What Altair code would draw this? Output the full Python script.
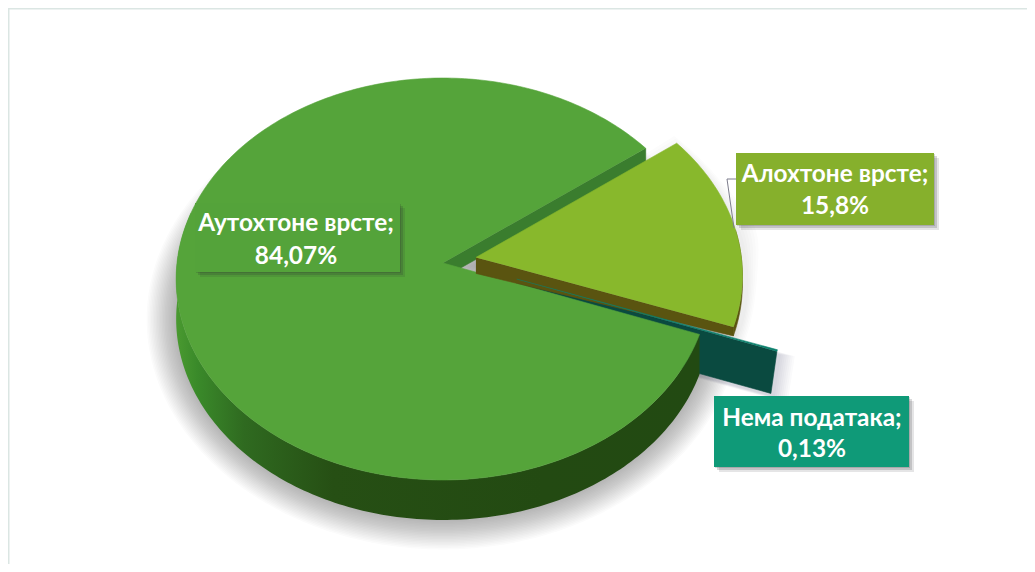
import math
import altair as alt
import pandas as pd

# ---- values ----
NAMES = ["Алохтоне врсте;", "Нема података;", "Аутохтоне врсте;"]
SHARES = [15.8, 0.13, 84.07]

# ---- layout / style ----
W, H = 1019, 556
ROT = 53.0
P, A, B, X0, Y0 = 0.0796, 266.0, 199.7, 443.0, 263.0
EXPLODE = [(0.124, -0.028), (0.275, 0.08), (0.0, 0.0)]
TOP = ["#88b82c", "#0b7f6c", "#55a43a"]
BOXES = [(736, 934, 153, 225, "#86b02c", 835, 175, 207),
         (714, 909, 396, 467, "#0f9a78", 812, 419, 450),
         (195, 400, 203, 272, "#54a33a", 296, 224, 257)]
FONT = "Lato"
FS = 24.4

xs = alt.Scale(domain=[8, 8 + W], range=[0, W], nice=False, zero=False)
ys = alt.Scale(domain=[8, 8 + H], range=[0, H], nice=False, zero=False)


def proj(u, v):
    w = 1 - P * v
    return (X0 + A * u / w, Y0 + B * v / w)


def arc(t0, t1, ex):
    n = max(2, int(abs(t1 - t0)) + 1)
    out = []
    for i in range(n + 1):
        t = math.radians(t0 + (t1 - t0) * i / n)
        out.append(proj(ex[0] + math.sin(t), ex[1] - math.cos(t)))
    return out


def frame(pts, pid=0):
    return pd.DataFrame({"x": [p[0] for p in pts], "y": [p[1] for p in pts],
                         "i": list(range(len(pts))), "pid": pid})


def poly(pts, fill, opacity=1.0, stroke=True):
    kw = {"fill": fill, "opacity": opacity}
    if stroke and isinstance(fill, str):
        kw.update(stroke=fill, strokeWidth=0.6)
    else:
        kw.update(strokeOpacity=0, strokeWidth=0)
    return alt.Chart(frame(pts)).mark_line(**kw).encode(
        x=alt.X("x:Q", scale=xs, axis=None),
        y=alt.Y("y:Q", scale=ys, axis=None),
        order=alt.Order("i:Q"))


def shift(pts, dx, dy):
    return [(x + dx, y + dy) for x, y in pts]


def spread(pts, s):
    cx = sum(p[0] for p in pts) / len(pts)
    cy = sum(p[1] for p in pts) / len(pts)
    out = []
    for x, y in pts:
        d = math.hypot(x - cx, y - cy) or 1
        out.append((x + s * (x - cx) / d, y + s * (y - cy) / d))
    return out


def glow(pts, steps, alpha):
    return [poly(spread(pts, s), "#3c3c44", alpha, stroke=False) for s in steps]


def hgrad(*stops):
    return alt.Gradient(gradient="linear", x1=0, x2=1, y1=0, y2=0,
                        stops=[alt.GradientStop(offset=o, color=c) for o, c in stops])


def rect(x0, x1, y0, y1, fill, opacity=1.0):
    return alt.Chart(pd.DataFrame({"x": [x0], "x2": [x1], "y": [y0], "y2": [y1]})).mark_rect(
        fill=fill, opacity=opacity).encode(
        x=alt.X("x:Q", scale=xs, axis=None), x2="x2:Q",
        y=alt.Y("y:Q", scale=ys, axis=None), y2="y2:Q")


def label(tx, ty, s):
    return alt.Chart(pd.DataFrame({"x": [tx], "y": [ty], "t": [s]})).mark_text(
        font=FONT, fontSize=FS, fontWeight="bold", color="white", align="center", baseline="middle").encode(
        x=alt.X("x:Q", scale=xs, axis=None), y=alt.Y("y:Q", scale=ys, axis=None), text="t:N")


# slice angles from the shares
angles = []
t = ROT
for s in SHARES:
    angles.append((t, t + s * 3.6))
    t += s * 3.6

la, ta, ma = angles
lex, tex, mex = EXPLODE

m_arc = arc(ma[0], ma[1], mex)
l_arc = arc(la[0], la[1], lex)
t_arc = arc(ta[0], ta[1], tex)
m_apex, l_apex, t_apex = proj(*mex), proj(*lex), proj(*tex)

layers = []

# frame lines
layers.append(rect(8, 8 + W, 8, 9.5, "#dbe6e3"))
layers.append(rect(8, 9.5, 8, 8 + H, "#dbe6e3"))

# soft shadows
full = arc(0, 360, (0, 0))
layers += glow(shift(full, 0, 40), [1 + 1.5 * k for k in range(20)], 0.02)
layers += glow(shift(l_arc + [l_apex], 5, 8), [2, 5, 8, 11, 14, 17], 0.014)

t_tip = t_arc[-1]
t_wall = [t_apex, t_tip, (t_tip[0] - 6, t_tip[1] + 42), (t_apex[0] - 6, t_apex[1] + 42)]
layers += glow(shift(t_wall, 2, 3), [2, 4, 6, 8, 10, 12, 14, 16], 0.025)

# no-data wedge wall
layers.append(poly(t_wall, "#0a4a40"))

# main wedge: inner wall along the gap
m_corner = m_arc[-1]
layers.append(poly([m_apex, m_corner, (m_corner[0], m_corner[1] + 15), (m_apex[0], m_apex[1] + 15)],
                   "#3a7d2e"))

# main wedge: outer rim
rim_top = arc(ma[0], 285, mex)
rim = rim_top + shift(rim_top, 0, 40)[::-1]
layers.append(poly(rim, hgrad((0.0, "#4a9a30"), (0.04, "#3a8a2a"), (0.13, "#2f6a20"), (0.3, "#264f14"),
                              (0.7, "#234a12"), (1.0, "#224a12")), stroke=False))

# main wedge: top face
layers.append(poly([m_apex] + m_arc, TOP[2]))

# introduced species wedge: wall
l_end = l_arc[-1]
LD0, LD1 = 16, 9
layers.append(poly([l_apex, l_end, (l_end[0], l_end[1] + LD1), (l_apex[0], l_apex[1] + LD0)], "#5a5410"))
rl = arc(la[1] - 28, la[1], lex)
layers.append(poly(rl + shift(rl, 0, LD1)[::-1], "#5a5410"))

# no-data wedge: top face
layers.append(poly([t_apex] + t_arc, TOP[1]))

# introduced species wedge: top
layers.append(poly([l_apex] + l_arc, TOP[0]))

# leader line
leader = frame([(736, 179), (727, 179), (734, 228)])
layers.append(alt.Chart(leader).mark_line(color="#7d7d8c", strokeWidth=1).encode(
    x=alt.X("x:Q", scale=xs, axis=None), y=alt.Y("y:Q", scale=ys, axis=None), order=alt.Order("i:Q")))

# data labels
for name, share, box in zip(NAMES, SHARES, BOXES):
    x0, x1, y0, y1, col, tx, t1, t2 = box
    for k, a in [(1, 0.18), (3, 0.18), (5, 0.12)]:
        layers.append(rect(x0 + k, x1 + k, y0 + k, y1 + k, "#2a2a30", a))
    layers.append(rect(x0, x1, y0, y1, col))
    layers.append(label(tx, t1, name))
    layers.append(label(tx, t2, f"{share}%".replace(".", ",")))

chart = alt.layer(*layers).properties(
    width=W, height=H, padding=0, autosize=alt.AutoSizeParams(type="none"),
    background="white"
).configure_view(stroke=None)

chart.save("out.html", embed_options={"renderer": "svg", "actions": False})
